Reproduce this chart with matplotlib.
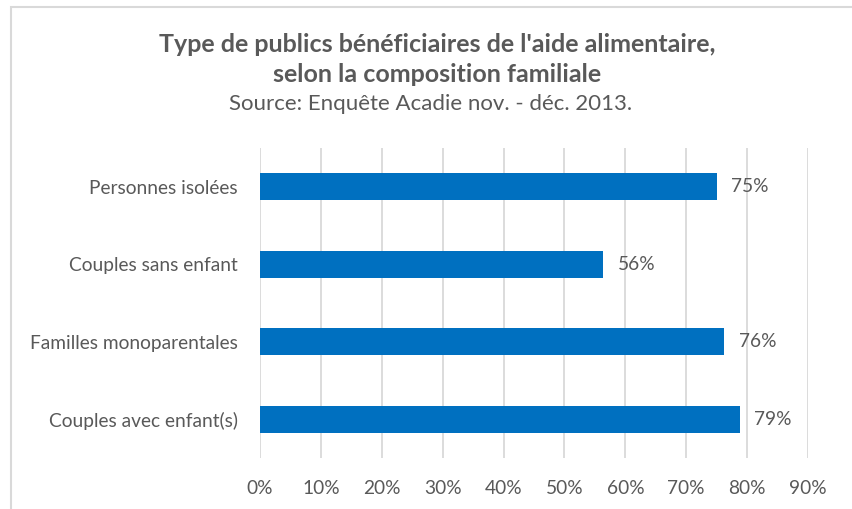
import matplotlib
matplotlib.use("Agg")
import matplotlib.pyplot as plt
from matplotlib.patches import Rectangle

# Data
categories = ["Personnes isolées", "Couples sans enfant",
              "Familles monoparentales", "Couples avec enfant(s)"]
shares = [0.750, 0.563, 0.762, 0.788]
x_ticks = [0.0, 0.1, 0.2, 0.3, 0.4, 0.5, 0.6, 0.7, 0.8, 0.9]

BAR_COLOR = "#0070C0"
TEXT_COLOR = "#595959"
GRID_COLOR = "#D9D9D9"

plt.rcParams["font.family"] = ["Lato", "DejaVu Sans"]

fig = plt.figure(figsize=(8.52, 5.09), dpi=100)
ax = fig.add_axes([260 / 852, 1 - 458 / 509, 548 / 852, 310 / 509])

# Top category first, as in the reference
ypos = list(range(len(categories)))[::-1]
ax.barh(ypos, shares, height=0.35, color=BAR_COLOR, zorder=3)

for y, v in zip(ypos, shares):
    ax.text(v + 0.024, y, f"{round(v * 100):.0f}%", va="center", ha="left",
            fontsize=13.8, color=TEXT_COLOR)

ax.set_xlim(0, 0.9)
ax.set_ylim(-0.5, len(categories) - 0.5)
ax.set_xticks(x_ticks)
ax.set_xticklabels([f"{round(t * 100)}%" for t in x_ticks])
ax.set_yticks(ypos)
ax.set_yticklabels(categories)
ax.tick_params(axis="both", length=0, labelsize=13.8, labelcolor=TEXT_COLOR)
ax.tick_params(axis="x", pad=16)
ax.tick_params(axis="y", pad=16)
ax.grid(axis="x", color=GRID_COLOR, linewidth=1.3, zorder=0)
for side in ax.spines.values():
    side.set_visible(False)

# Titles
fig.text(0.513, 1 - 45 / 509, "Type de publics bénéficiaires de l'aide alimentaire,",
         ha="center", va="center", fontsize=18, fontweight="bold", color=TEXT_COLOR)
fig.text(0.513, 1 - 74 / 509, "selon la composition familiale",
         ha="center", va="center", fontsize=18, fontweight="bold", color=TEXT_COLOR)
fig.text(0.505, 1 - 104 / 509, "Source: Enquête Acadie nov. - déc. 2013.",
         ha="center", va="center", fontsize=16, color=TEXT_COLOR)

# Chart border, cut by the image on the right and bottom
fig.patches.append(Rectangle((10.5 / 852, -0.1), 1.0, 1 - 7 / 509 + 0.1,
                             transform=fig.transFigure, fill=False,
                             edgecolor=GRID_COLOR, linewidth=1.5))

fig.savefig("out.png", dpi=100, facecolor="white")
